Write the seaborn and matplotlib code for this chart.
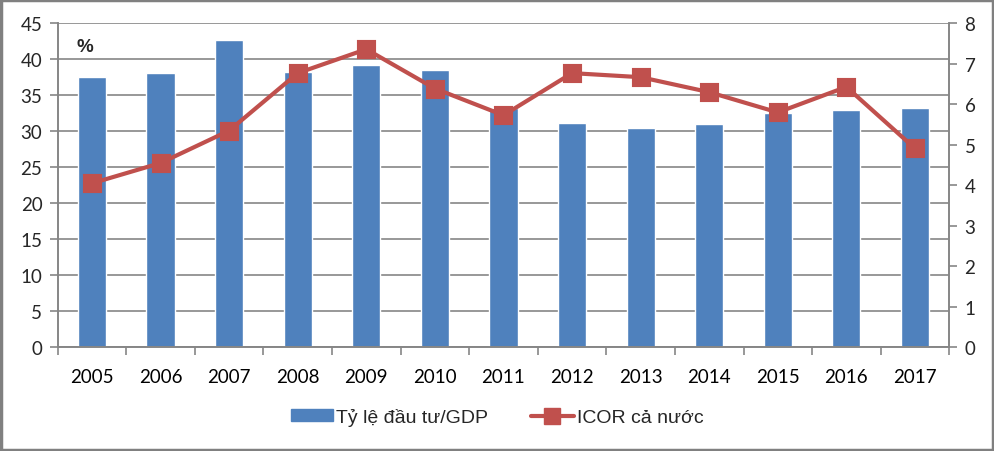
import matplotlib
matplotlib.use("Agg")
import matplotlib.pyplot as plt
import seaborn as sns
import numpy as np
import pandas as pd
from matplotlib.patches import Patch, Rectangle
from matplotlib.lines import Line2D

years = ["2005", "2006", "2007", "2008", "2009", "2010", "2011",
         "2012", "2013", "2014", "2015", "2016", "2017"]
invest_gdp = [37.5, 38.1, 42.7, 38.3, 39.2, 38.5, 33.2, 31.1, 30.5, 31.0, 32.5, 32.9, 33.2]
icor = [4.05, 4.55, 5.35, 6.77, 7.36, 6.39, 5.73, 6.77, 6.67, 6.30, 5.80, 6.43, 4.91]
left_ticks = [0, 5, 10, 15, 20, 25, 30, 35, 40, 45]
right_ticks = [0, 1, 2, 3, 4, 5, 6, 7, 8]
bar_label = "Tỷ lệ đầu tư/GDP"
line_label = "ICOR cả nước"

BLUE = "#4F81BD"
RED = "#C0504D"
GRID = "#868686"

sns.set_theme(style="white")
plt.rcParams['font.family'] = ['Lato', 'DejaVu Sans']

df = pd.DataFrame({"year": years, "inv": invest_gdp, "icor": icor})

fig = plt.figure(figsize=(9.94, 4.52), dpi=100)
ax = fig.add_axes([0.058, 0.2294, 0.897, 0.7168])
sns.barplot(data=df, x="year", y="inv", color=BLUE, saturation=1, width=0.41, ax=ax, zorder=2)
ax.set_ylim(0, 45)
ax.set_xlim(-0.5, len(years) - 0.5)
ax.set_yticks(left_ticks)
ax.yaxis.grid(True, color=GRID, linewidth=1.2, zorder=0)
ax.set_axisbelow(True)
ax.set_xlabel("")
ax.set_ylabel("")
ax.spines["top"].set_visible(False)
for s in ["left", "bottom", "right"]:
    ax.spines[s].set_color(GRID)
    ax.spines[s].set_linewidth(1.2)
ax.set_xticks(np.arange(len(years)))
ax.set_xticklabels(years)
ax.set_xticks(np.arange(len(years) + 1) - 0.5, minor=True)
ax.tick_params(axis="x", which="major", length=0, pad=15, labelsize=13.5, colors="black")
ax.tick_params(axis="x", which="minor", length=6, width=1.2, color=GRID, direction="out", bottom=True)
ax.tick_params(axis="y", length=6, width=1.2, color=GRID, direction="out", left=True, labelsize=13.5, pad=5)

ax2 = ax.twinx()
sns.pointplot(data=df, x="year", y="icor", color=RED, markers="s", linestyles="-",
              ax=ax2, markersize=11.5, linewidth=3, zorder=3)
ax2.set_ylim(0, 8)
ax2.set_xlim(-0.5, len(years) - 0.5)
ax2.set_yticks(right_ticks)
ax2.set_ylabel("")
ax2.set_xlabel("")
ax2.spines["top"].set_visible(False)
for s in ["left", "bottom", "right"]:
    ax2.spines[s].set_color(GRID)
    ax2.spines[s].set_linewidth(1.2)
ax2.tick_params(axis="y", length=6, width=1.2, color=GRID, direction="out", right=True, labelsize=13.5, pad=5)
ax2.grid(False)

ax.text(0.021, 0.955, "%", transform=ax.transAxes, fontsize=13.5, fontweight="bold",
        ha="left", va="top", family=["Liberation Sans", "DejaVu Sans"])

handles = [Patch(facecolor=BLUE, edgecolor=BLUE),
           Line2D([0], [0], color=RED, linewidth=3, marker="s", markersize=11.5)]
fig.legend(handles, [bar_label, line_label], loc="center", bbox_to_anchor=(0.5, 0.075),
           ncol=2, frameon=False, prop={"family": ["Liberation Sans", "DejaVu Sans"], "size": 14},
           handlelength=2.2, handleheight=0.55, columnspacing=2.2, handletextpad=0.15)

fig.patches.append(Rectangle((0.001, 0.002), 0.998, 0.996, transform=fig.transFigure,
                             fill=False, edgecolor="#808080", linewidth=2.5))

fig.savefig("out.png", dpi=100)
